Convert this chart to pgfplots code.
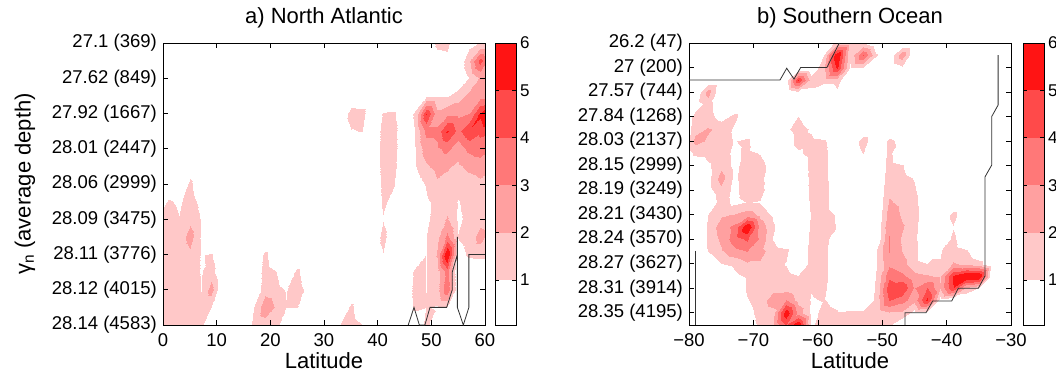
\documentclass[border=0pt]{standalone}
\usepackage{fontspec}
\setmainfont{Liberation Sans}
\usepackage{pgfplots}
\pgfplotsset{compat=1.18}
\newcommand{\tk}[1]{{\fontsize{18.5}{21}\selectfont #1}}
\newcommand{\tc}[1]{{\fontsize{17}{19}\selectfont #1}}
\newcommand{\tl}[1]{{\fontsize{22}{25}\selectfont #1}}
\definecolor{cA}{RGB}{255,200,200}
\definecolor{cB}{RGB}{255,160,160}
\definecolor{cC}{RGB}{255,120,120}
\definecolor{cD}{RGB}{255,74,74}
\definecolor{cE}{RGB}{255,20,20}
\pgfplotsset{
 cont/.style={hide axis, scale only axis, width=322pt, height=282pt, view={0}{90}, y dir=reverse, anchor=south west,
   colormap={reds}{rgb255=(255,255,255) rgb255=(255,200,200) rgb255=(255,160,160) rgb255=(255,120,120) rgb255=(255,74,74) rgb255=(255,20,20) rgb255=(255,20,20)},
   colormap access=piecewise constant, point meta min=0, point meta max=6},
 frame/.style={scale only axis, width=322pt, height=282pt, y dir=reverse, anchor=south west, tick align=inside,
   major tick length=5pt, every tick/.style={black, line width=0.6pt}, axis line style={line width=0.6pt},
   tick label style={font=\fontsize{18.5}{21}\selectfont},
   xticklabel style={font=\fontsize{18.5}{21}\selectfont, anchor=base, inner sep=0pt, yshift=-21pt},
   yticklabel style={font=\fontsize{18.5}{21}\selectfont, anchor=east, inner sep=0pt, xshift=-6pt},
   title style={at={(axis description cs:0.5,1.0496)}, anchor=base, font=\fontsize{22}{25}\selectfont},
   label style={font=\fontsize{22}{25}\selectfont},
   xlabel style={at={(axis description cs:0.5,-0.1560)}, anchor=base},
   ylabel style={at={(axis description cs:-0.4286,0.5)}, anchor=center}},
 cbar/.style={scale only axis, width=21pt, height=282pt, anchor=south west, xmin=0, xmax=1, ymin=0.05, ymax=6,
   xtick=\empty, ytick={1,2,3,4,5,6}, yticklabels={\tc{1},\tc{2},\tc{3},\tc{4},\tc{5},\tc{6}},
   yticklabel pos=right, ytick pos=both, tick align=inside, major tick length=4pt,
   every tick/.style={black, line width=0.6pt}, axis line style={line width=0.6pt}, axis on top,
   tick label style={font=\fontsize{17}{19}\selectfont},
   yticklabel style={font=\fontsize{17}{19}\selectfont, anchor=west, inner sep=0pt, xshift=4pt}},
 bathy/.style={black!80, line width=0.8pt}
}
\begin{document}
\begin{tikzpicture}
\path[use as bounding box] (0,0) rectangle (1056pt,379pt);
% ---------------- a) North Atlantic : contour ----------------
\begin{axis}[cont, at={(163pt,54pt)}, xmin=0, xmax=60, ymin=1, ymax=9]
\addplot3[surf, shader=interp, colormap access=piecewise constant] coordinates {
(-1,1,0) (1,1,0) (3,1,0) (5,1,0) (7,1,0) (9,1,0) (11,1,0) (13,1,0) (15,1,0) (17,1,0) (19,1,0) (21,1,0) (23,1,0) (25,1,0) (27,1,0) (29,1,0) (31,1,0) (33,1,0) (35,1,0) (37,1,0) (39,1,0) (41,1,0) (43,1,0) (45,1,0) (47,1,0) (49,1,0) (51,1,1.05) (53,1,1.1) (55,1,0) (57,1,0.5) (59,1,0.9) (61,1,0.6)

(-1,1.5,0) (1,1.5,0) (3,1.5,0) (5,1.5,0) (7,1.5,0) (9,1.5,0) (11,1.5,0) (13,1.5,0) (15,1.5,0) (17,1.5,0) (19,1.5,0) (21,1.5,0) (23,1.5,0) (25,1.5,0) (27,1.5,0) (29,1.5,0) (31,1.5,0) (33,1.5,0) (35,1.5,0) (37,1.5,0) (39,1.5,0) (41,1.5,0) (43,1.5,0) (45,1.5,0) (47,1.5,0) (49,1.5,0) (51,1.5,0.5) (53,1.5,0.6) (55,1.5,0) (57,1.5,1.6) (59,1.5,3.8) (61,1.5,2)

(-1,2,0) (1,2,0) (3,2,0) (5,2,0) (7,2,0) (9,2,0) (11,2,0) (13,2,0) (15,2,0) (17,2,0) (19,2,0) (21,2,0) (23,2,0) (25,2,0) (27,2,0) (29,2,0) (31,2,0) (33,2,0) (35,2,0) (37,2,0) (39,2,0) (41,2,0) (43,2,0) (45,2,0) (47,2,0) (49,2,0) (51,2,0) (53,2,0) (55,2,0) (57,2,0.9) (59,2,1.8) (61,2,1.9)

(-1,2.5,0) (1,2.5,0) (3,2.5,0) (5,2.5,0) (7,2.5,0) (9,2.5,0) (11,2.5,0) (13,2.5,0) (15,2.5,0) (17,2.5,0) (19,2.5,0) (21,2.5,0) (23,2.5,0) (25,2.5,0) (27,2.5,0) (29,2.5,0) (31,2.5,0) (33,2.5,0) (35,2.5,0) (37,2.5,0) (39,2.5,0) (41,2.5,0) (43,2.5,0) (45,2.5,0) (47,2.5,0) (49,2.5,0.8) (51,2.5,0.8) (53,2.5,0.8) (55,2.5,1.3) (57,2.5,2) (59,2.5,2.2) (61,2.5,2.4)

(-1,3,0) (1,3,0) (3,3,0) (5,3,0) (7,3,0) (9,3,0) (11,3,0) (13,3,0) (15,3,0) (17,3,0) (19,3,0) (21,3,0) (23,3,0) (25,3,0) (27,3,0) (29,3,0) (31,3,0) (33,3,0) (35,3,1.3) (37,3,1.2) (39,3,0) (41,3,0.95) (43,3,1) (45,3,0) (47,3,1.05) (49,3,4.3) (51,3,2) (53,3,2.4) (55,3,2.4) (57,3,2.6) (59,3,4.5) (61,3,6)

(-1,3.5,0) (1,3.5,0) (3,3.5,0) (5,3.5,0) (7,3.5,0) (9,3.5,0) (11,3.5,0) (13,3.5,0) (15,3.5,0) (17,3.5,0) (19,3.5,0) (21,3.5,0) (23,3.5,0) (25,3.5,0) (27,3.5,0) (29,3.5,0) (31,3.5,0) (33,3.5,0) (35,3.5,0.8) (37,3.5,0.9) (39,3.5,0) (41,3.5,1.2) (43,3.5,1.2) (45,3.5,0) (47,3.5,0.9) (49,3.5,2.8) (51,3.5,2.8) (53,3.5,4.4) (55,3.5,3.2) (57,3.5,4.2) (59,3.5,3.6) (61,3.5,3.5)

(-1,4,0) (1,4,0) (3,4,0) (5,4,0) (7,4,0) (9,4,0) (11,4,0) (13,4,0) (15,4,0) (17,4,0) (19,4,0) (21,4,0) (23,4,0) (25,4,0) (27,4,0) (29,4,0) (31,4,0) (33,4,0) (35,4,0) (37,4,0) (39,4,0) (41,4,1.25) (43,4,1.2) (45,4,0) (47,4,0.85) (49,4,2.2) (51,4,2.4) (53,4,2.8) (55,4,2) (57,4,2.8) (59,4,3.1) (61,4,2.6)

(-1,4.5,0) (1,4.5,0) (3,4.5,0) (5,4.5,0.4) (7,4.5,0) (9,4.5,0) (11,4.5,0) (13,4.5,0) (15,4.5,0) (17,4.5,0) (19,4.5,0) (21,4.5,0) (23,4.5,0) (25,4.5,0) (27,4.5,0) (29,4.5,0) (31,4.5,0) (33,4.5,0) (35,4.5,0) (37,4.5,0) (39,4.5,0) (41,4.5,1.2) (43,4.5,1.1) (45,4.5,0) (47,4.5,0.8) (49,4.5,1.6) (51,4.5,2) (53,4.5,1.8) (55,4.5,1.6) (57,4.5,1.9) (59,4.5,2) (61,4.5,1.8)

(-1,5,0) (1,5,0) (3,5,0) (5,5,1.05) (7,5,0) (9,5,0) (11,5,0) (13,5,0) (15,5,0) (17,5,0) (19,5,0) (21,5,0) (23,5,0) (25,5,0) (27,5,0) (29,5,0) (31,5,0) (33,5,0) (35,5,0) (37,5,0) (39,5,0) (41,5,1.1) (43,5,0.9) (45,5,0) (47,5,0.3) (49,5,0.95) (51,5,1.6) (53,5,1.5) (55,5,1.2) (57,5,1.4) (59,5,1.6) (61,5,1.5)

(-1,5.5,0) (1,5.5,1) (3,5.5,0.7) (5,5.5,1.3) (7,5.5,0.6) (9,5.5,0) (11,5.5,0) (13,5.5,0) (15,5.5,0) (17,5.5,0) (19,5.5,0) (21,5.5,0) (23,5.5,0) (25,5.5,0) (27,5.5,0) (29,5.5,0) (31,5.5,0) (33,5.5,0) (35,5.5,0) (37,5.5,0) (39,5.5,0) (41,5.5,1) (43,5.5,0.6) (45,5.5,0) (47,5.5,0) (49,5.5,0.7) (51,5.5,1.1) (53,5.5,1.4) (55,5.5,0.8) (57,5.5,1.2) (59,5.5,1.4) (61,5.5,1.3)

(-1,6,0.9) (1,6,1.3) (3,6,0.9) (5,6,1.5) (7,6,0.8) (9,6,0) (11,6,0) (13,6,0) (15,6,0) (17,6,0) (19,6,0) (21,6,0) (23,6,0) (25,6,0) (27,6,0) (29,6,0) (31,6,0) (33,6,0) (35,6,0) (37,6,0) (39,6,0) (41,6,0.8) (43,6,0) (45,6,0) (47,6,0) (49,6,0.7) (51,6,1.2) (53,6,1.8) (55,6,0.7) (57,6,1.1) (59,6,1.4) (61,6,1.2)

(-1,6.5,1.1) (1,6.5,1.4) (3,6.5,1.2) (5,6.5,2.1) (7,6.5,0.8) (9,6.5,0) (11,6.5,0) (13,6.5,0) (15,6.5,0) (17,6.5,0) (19,6.5,0) (21,6.5,0) (23,6.5,0) (25,6.5,0) (27,6.5,0) (29,6.5,0) (31,6.5,0) (33,6.5,0) (35,6.5,0) (37,6.5,0) (39,6.5,0) (41,6.5,1.2) (43,6.5,0) (45,6.5,0) (47,6.5,0) (49,6.5,0.85) (51,6.5,1.5) (53,6.5,2.8) (55,6.5,0.9) (57,6.5,1.2) (59,6.5,2.1) (61,6.5,1.3)

(-1,7,1.1) (1,7,1.5) (3,7,0.95) (5,7,1.5) (7,7,0.8) (9,7,0.95) (11,7,0) (13,7,0) (15,7,0) (17,7,0) (19,7,1.1) (21,7,0) (23,7,0) (25,7,0) (27,7,0) (29,7,0) (31,7,0) (33,7,0) (35,7,0) (37,7,0) (39,7,0) (41,7,0.8) (43,7,0) (45,7,0) (47,7,0) (49,7,0.85) (51,7,1.8) (53,7,5.3) (55,7,0.5) (57,7,1) (59,7,1.1) (61,7,1)

(-1,7.5,1.1) (1,7.5,1.4) (3,7.5,0.9) (5,7.5,1.4) (7,7.5,0.8) (9,7.5,1.3) (11,7.5,0) (13,7.5,0) (15,7.5,0) (17,7.5,0) (19,7.5,1.3) (21,7.5,0.9) (23,7.5,0) (25,7.5,1.1) (27,7.5,0) (29,7.5,0) (31,7.5,0) (33,7.5,0) (35,7.5,0) (37,7.5,0) (39,7.5,0) (41,7.5,0) (43,7.5,0) (45,7.5,0) (47,7.5,1.1) (49,7.5,0.85) (51,7.5,1.3) (53,7.5,2.9) (55,7.5,0) (57,7.5,0) (59,7.5,0) (61,7.5,0)

(-1,8,1.1) (1,8,1.3) (3,8,0.95) (5,8,1.4) (7,8,0.85) (9,8,2.1) (11,8,0) (13,8,0) (15,8,0) (17,8,0) (19,8,1.4) (21,8,1.2) (23,8,0.8) (25,8,1.4) (27,8,0.5) (29,8,0) (31,8,0) (33,8,0) (35,8,0) (37,8,0) (39,8,0) (41,8,0) (43,8,0) (45,8,0) (47,8,1.2) (49,8,0.85) (51,8,1.4) (53,8,3.3) (55,8,0) (57,8,0) (59,8,0) (61,8,0)

(-1,8.5,0.9) (1,8.5,1.1) (3,8.5,1.3) (5,8.5,1.3) (7,8.5,0.95) (9,8.5,0.9) (11,8.5,0) (13,8.5,0) (15,8.5,0) (17,8.5,0.9) (19,8.5,2.3) (21,8.5,1.6) (23,8.5,0.9) (25,8.5,0.9) (27,8.5,0) (29,8.5,0) (31,8.5,0) (33,8.5,0) (35,8.5,1.05) (37,8.5,0) (39,8.5,0) (41,8.5,0) (43,8.5,0) (45,8.5,0) (47,8.5,1.1) (49,8.5,0.9) (51,8.5,0.8) (53,8.5,0.8) (55,8.5,0) (57,8.5,0) (59,8.5,0) (61,8.5,0)

(-1,9,0.7) (1,9,1.2) (3,9,1.3) (5,9,1.3) (7,9,1) (9,9,0) (11,9,0) (13,9,0) (15,9,0) (17,9,1.1) (19,9,1.3) (21,9,1.2) (23,9,0) (25,9,0) (27,9,0) (29,9,0) (31,9,0) (33,9,0.9) (35,9,1.3) (37,9,0.9) (39,9,0) (41,9,0) (43,9,0) (45,9,0) (47,9,0) (49,9,1.1) (51,9,0) (53,9,0) (55,9,0) (57,9,0) (59,9,0) (61,9,0)
};
\end{axis}
% ---------------- a) frame ----------------
\begin{axis}[frame, at={(163pt,54pt)}, xmin=0, xmax=60, ymin=1, ymax=9,
  xtick={0,10,20,30,40,50,60}, xticklabels={\tk{0},\tk{10},\tk{20},\tk{30},\tk{40},\tk{50},\tk{60}},
  ytick={1,2,3,4,5,6,7,8,9},
  yticklabels={\tk{27.1 (369)},\tk{27.62 (849)},\tk{27.92 (1667)},\tk{28.01 (2447)},\tk{28.06 (2999)},\tk{28.09 (3475)},\tk{28.11 (3776)},\tk{28.12 (4015)},\tk{28.14 (4583)}},
  title={\tl{a) North Atlantic}}, xlabel={\tl{Latitude}}, ylabel={\tl{γ\textsubscript{n} (average depth)}}]
\addplot[bathy] coordinates {(45.7,9) (46.77,8.5) (47.77,9) (48.8,9) (49.75,8.5) (52.86,8.5) (53.9,8) (53.9,7.5) (54.85,7) (54.85,6.5) (54.85,8.5) (55.96,9) (57,8.5) (57,7) (60,7)};
\end{axis}
% ---------------- a) colorbar ----------------
\begin{axis}[cbar, at={(495pt,54pt)}]
\addplot[draw=none, fill=cA] coordinates {(0,1) (1,1) (1,2) (0,2)} -- cycle;
\addplot[draw=none, fill=cB] coordinates {(0,2) (1,2) (1,3) (0,3)} -- cycle;
\addplot[draw=none, fill=cC] coordinates {(0,3) (1,3) (1,4) (0,4)} -- cycle;
\addplot[draw=none, fill=cD] coordinates {(0,4) (1,4) (1,5) (0,5)} -- cycle;
\addplot[draw=none, fill=cE] coordinates {(0,5) (1,5) (1,6) (0,6)} -- cycle;
\end{axis}
% ---------------- b) Southern Ocean : contour ----------------
\begin{axis}[cont, at={(689pt,54pt)}, xmin=-80, xmax=-30, ymin=1, ymax=12.5]
\addplot3[surf, shader=interp, colormap access=piecewise constant] coordinates {
(-81,1,0) (-79,1,0) (-77,1,0) (-75,1,0) (-73,1,0) (-71,1,0) (-69,1,0) (-67,1,0) (-65,1,0) (-63,1,0) (-61,1,0) (-59,1,0) (-57,1,1.2) (-55,1,1.3) (-53,1,0.9) (-51,1,0) (-49,1,0) (-47,1,0) (-45,1,0) (-43,1,0) (-41,1,0) (-39,1,0) (-37,1,0) (-35,1,0) (-33,1,0) (-31,1,0) (-29,1,0)

(-81,1.5,0) (-79,1.5,0) (-77,1.5,0) (-75,1.5,0) (-73,1.5,0) (-71,1.5,0) (-69,1.5,0) (-67,1.5,0) (-65,1.5,0) (-63,1.5,0) (-61,1.5,0) (-59,1.5,0.9) (-57,1.5,5.3) (-55,1.5,0.95) (-53,1.5,3.5) (-51,1.5,0.95) (-49,1.5,0) (-47,1.5,2.3) (-45,1.5,0) (-43,1.5,0) (-41,1.5,0) (-39,1.5,0) (-37,1.5,0) (-35,1.5,0) (-33,1.5,0) (-31,1.5,0) (-29,1.5,0)

(-81,2,0) (-79,2,0) (-77,2,0) (-75,2,0) (-73,2,0) (-71,2,0) (-69,2,0) (-67,2,0) (-65,2,0) (-63,2,0) (-61,2,0) (-59,2,1.6) (-57,2,4.5) (-55,2,0.8) (-53,2,0.8) (-51,2,0) (-49,2,0) (-47,2,0.6) (-45,2,0) (-43,2,0) (-41,2,0) (-39,2,0) (-37,2,0) (-35,2,0) (-33,2,0) (-31,2,0) (-29,2,0)

(-81,2.5,0) (-79,2.5,0) (-77,2.5,0) (-75,2.5,0) (-73,2.5,0) (-71,2.5,0) (-69,2.5,0) (-67,2.5,0) (-65,2.5,0.3) (-63,2.5,4.3) (-61,2.5,1.3) (-59,2.5,1.2) (-57,2.5,1.2) (-55,2.5,0) (-53,2.5,0) (-51,2.5,0) (-49,2.5,0) (-47,2.5,0) (-45,2.5,0) (-43,2.5,0) (-41,2.5,0) (-39,2.5,0) (-37,2.5,0) (-35,2.5,0) (-33,2.5,0) (-31,2.5,0) (-29,2.5,0)

(-81,3,0) (-79,3,0) (-77,3,2.1) (-75,3,0) (-73,3,0) (-71,3,0) (-69,3,0) (-67,3,0) (-65,3,0) (-63,3,0.7) (-61,3,0.6) (-59,3,0) (-57,3,0.7) (-55,3,0) (-53,3,0) (-51,3,0) (-49,3,0) (-47,3,0) (-45,3,0) (-43,3,0) (-41,3,0) (-39,3,0) (-37,3,0) (-35,3,0) (-33,3,0) (-31,3,0) (-29,3,0)

(-81,3.5,0) (-79,3.5,0.4) (-77,3.5,1.2) (-75,3.5,0.3) (-73,3.5,0) (-71,3.5,0) (-69,3.5,0) (-67,3.5,0) (-65,3.5,0) (-63,3.5,0) (-61,3.5,0) (-59,3.5,0) (-57,3.5,0) (-55,3.5,0) (-53,3.5,0) (-51,3.5,0) (-49,3.5,0) (-47,3.5,0) (-45,3.5,0) (-43,3.5,0) (-41,3.5,0) (-39,3.5,0) (-37,3.5,0) (-35,3.5,0) (-33,3.5,0) (-31,3.5,0) (-29,3.5,0)

(-81,4,0) (-79,4,1.15) (-77,4,1.2) (-75,4,0.5) (-73,4,1.15) (-71,4,0) (-69,4,0) (-67,4,0) (-65,4,0.3) (-63,4,0.9) (-61,4,0) (-59,4,0) (-57,4,0) (-55,4,0) (-53,4,0) (-51,4,0) (-49,4,0) (-47,4,0) (-45,4,0) (-43,4,0) (-41,4,0) (-39,4,0) (-37,4,0) (-35,4,0) (-33,4,0) (-31,4,0) (-29,4,0)

(-81,4.5,0) (-79,4.5,1.4) (-77,4.5,1.8) (-75,4.5,1.5) (-73,4.5,0.7) (-71,4.5,0) (-69,4.5,0) (-67,4.5,0) (-65,4.5,0.6) (-63,4.5,1.4) (-61,4.5,0.7) (-59,4.5,0) (-57,4.5,0) (-55,4.5,0) (-53,4.5,0) (-51,4.5,0) (-49,4.5,0) (-47,4.5,0) (-45,4.5,0) (-43,4.5,0) (-41,4.5,0) (-39,4.5,0) (-37,4.5,0) (-35,4.5,0) (-33,4.5,0) (-31,4.5,0) (-29,4.5,0)

(-81,5,0) (-79,5,2) (-77,5,1.6) (-75,5,1.3) (-73,5,0.8) (-71,5,1.1) (-69,5,0) (-67,5,0) (-65,5,0) (-63,5,1.3) (-61,5,1.1) (-59,5,1) (-57,5,0) (-55,5,0) (-53,5,1.3) (-51,5,0) (-49,5,1.05) (-47,5,0.6) (-45,5,0) (-43,5,0) (-41,5,0) (-39,5,0) (-37,5,0) (-35,5,0) (-33,5,0) (-31,5,0) (-29,5,0)

(-81,5.5,0) (-79,5.5,1.1) (-77,5.5,1.2) (-75,5.5,1.4) (-73,5.5,0.6) (-71,5.5,1.1) (-69,5.5,0.8) (-67,5.5,0) (-65,5.5,0) (-63,5.5,0.7) (-61,5.5,1.2) (-59,5.5,1.15) (-57,5.5,0) (-55,5.5,0) (-53,5.5,0.9) (-51,5.5,0) (-49,5.5,1.1) (-47,5.5,0) (-45,5.5,0) (-43,5.5,0) (-41,5.5,0) (-39,5.5,0) (-37,5.5,0) (-35,5.5,0) (-33,5.5,0) (-31,5.5,0) (-29,5.5,0)

(-81,6,0) (-79,6,0) (-77,6,0.7) (-75,6,1.5) (-73,6,0.6) (-71,6,1.3) (-69,6,1.25) (-67,6,0.3) (-65,6,0) (-63,6,0) (-61,6,1.15) (-59,6,1.2) (-57,6,0) (-55,6,0) (-53,6,0) (-51,6,0) (-49,6,1.2) (-47,6,0.95) (-45,6,0) (-43,6,0) (-41,6,0) (-39,6,0) (-37,6,0) (-35,6,0) (-33,6,0) (-31,6,0) (-29,6,0)

(-81,6.5,0) (-79,6.5,0) (-77,6.5,0.6) (-75,6.5,2.1) (-73,6.5,0.7) (-71,6.5,1.3) (-69,6.5,1.2) (-67,6.5,0) (-65,6.5,0) (-63,6.5,0) (-61,6.5,1.1) (-59,6.5,1.2) (-57,6.5,0) (-55,6.5,0) (-53,6.5,0) (-51,6.5,0) (-49,6.5,1.3) (-47,6.5,1.2) (-45,6.5,0.8) (-43,6.5,0) (-41,6.5,0) (-39,6.5,0) (-37,6.5,0) (-35,6.5,0) (-33,6.5,0) (-31,6.5,0) (-29,6.5,0)

(-81,7,0) (-79,7,0) (-77,7,0.5) (-75,7,1.5) (-73,7,0.6) (-71,7,1.3) (-69,7,1.25) (-67,7,0) (-65,7,0) (-63,7,0) (-61,7,1.1) (-59,7,1.3) (-57,7,0) (-55,7,0) (-53,7,0) (-51,7,0) (-49,7,1.5) (-47,7,1.4) (-45,7,1) (-43,7,0) (-41,7,0) (-39,7,0) (-37,7,0) (-35,7,0) (-33,7,0) (-31,7,0) (-29,7,0)

(-81,7.5,0) (-79,7.5,0) (-77,7.5,0) (-75,7.5,1.3) (-73,7.5,0.6) (-71,7.5,0.9) (-69,7.5,0.8) (-67,7.5,0) (-65,7.5,0) (-63,7.5,0) (-61,7.5,1) (-59,7.5,1.3) (-57,7.5,0) (-55,7.5,0) (-53,7.5,0) (-51,7.5,0) (-49,7.5,1.8) (-47,7.5,1.5) (-45,7.5,1.2) (-43,7.5,0) (-41,7.5,0) (-39,7.5,0) (-37,7.5,0) (-35,7.5,0) (-33,7.5,0) (-31,7.5,0) (-29,7.5,0)

(-81,8,0) (-79,8,0) (-77,8,0.9) (-75,8,1.6) (-73,8,1.8) (-71,8,2.2) (-69,8,1.5) (-67,8,0.7) (-65,8,0) (-63,8,0) (-61,8,0.9) (-59,8,1.4) (-57,8,0.7) (-55,8,0) (-53,8,0) (-51,8,0) (-49,8,2.2) (-47,8,1.6) (-45,8,1.3) (-43,8,0) (-41,8,0) (-39,8,1.2) (-37,8,0) (-35,8,0) (-33,8,0) (-31,8,0) (-29,8,0)

(-81,8.5,0) (-79,8.5,0) (-77,8.5,0.95) (-75,8.5,2.2) (-73,8.5,2.8) (-71,8.5,5.2) (-69,8.5,2.3) (-67,8.5,1) (-65,8.5,0) (-63,8.5,0) (-61,8.5,1) (-59,8.5,1.4) (-57,8.5,0.8) (-55,8.5,0) (-53,8.5,0) (-51,8.5,0) (-49,8.5,2.5) (-47,8.5,1.8) (-45,8.5,1.2) (-43,8.5,0) (-41,8.5,0) (-39,8.5,0.8) (-37,8.5,0) (-35,8.5,0) (-33,8.5,0) (-31,8.5,0) (-29,8.5,0)

(-81,9,0) (-79,9,0) (-77,9,1) (-75,9,1.9) (-73,9,3) (-71,9,3.6) (-69,9,2.4) (-67,9,0.8) (-65,9,0) (-63,9,0) (-61,9,1.1) (-59,9,1.3) (-57,9,0) (-55,9,0) (-53,9,0) (-51,9,0) (-49,9,2.6) (-47,9,1.6) (-45,9,1.1) (-43,9,0) (-41,9,0) (-39,9,1.1) (-37,9,0) (-35,9,0) (-33,9,0) (-31,9,0) (-29,9,0)

(-81,9.5,0) (-79,9.5,0) (-77,9.5,0.9) (-75,9.5,1.6) (-73,9.5,2.3) (-71,9.5,2.6) (-69,9.5,2) (-67,9.5,1.3) (-65,9.5,1.05) (-63,9.5,0) (-61,9.5,1.2) (-59,9.5,1.2) (-57,9.5,0) (-55,9.5,0) (-53,9.5,0) (-51,9.5,0.8) (-49,9.5,2.6) (-47,9.5,1.7) (-45,9.5,1.2) (-43,9.5,0) (-41,9.5,0.8) (-39,9.5,1.3) (-37,9.5,1) (-35,9.5,0) (-33,9.5,0) (-31,9.5,0) (-29,9.5,0)

(-81,10,0) (-79,10,0) (-77,10,0) (-75,10,0.8) (-73,10,1.05) (-71,10,1.6) (-69,10,1.6) (-67,10,1.2) (-65,10,0.8) (-63,10,0) (-61,10,1.2) (-59,10,1.2) (-57,10,0) (-55,10,0) (-53,10,0) (-51,10,0.8) (-49,10,2.4) (-47,10,2) (-45,10,1.2) (-43,10,0.9) (-41,10,0.9) (-39,10,1.8) (-37,10,1.6) (-35,10,1.2) (-33,10,0) (-31,10,0) (-29,10,0)

(-81,10.5,0) (-79,10.5,0) (-77,10.5,0) (-75,10.5,0) (-73,10.5,0.6) (-71,10.5,1) (-69,10.5,1.4) (-67,10.5,1.4) (-65,10.5,1.2) (-63,10.5,0.9) (-61,10.5,1.1) (-59,10.5,1.2) (-57,10.5,0) (-55,10.5,0) (-53,10.5,0) (-51,10.5,0.9) (-49,10.5,3.2) (-47,10.5,2.8) (-45,10.5,2) (-43,10.5,1.8) (-41,10.5,1.6) (-39,10.5,4.5) (-37,10.5,5.4) (-35,10.5,5.4) (-33,10.5,0) (-31,10.5,0) (-29,10.5,0)

(-81,11,0) (-79,11,0) (-77,11,0) (-75,11,0) (-73,11,0) (-71,11,1) (-69,11,1.3) (-67,11,1.4) (-65,11,1.4) (-63,11,1) (-61,11,0.9) (-59,11,1.05) (-57,11,0) (-55,11,0) (-53,11,0) (-51,11,1) (-49,11,4) (-47,11,4.2) (-45,11,2.5) (-43,11,3.5) (-41,11,1.8) (-39,11,4.2) (-37,11,1.5) (-35,11,0.8) (-33,11,0) (-31,11,0) (-29,11,0)

(-81,11.5,0) (-79,11.5,0) (-77,11.5,0) (-75,11.5,0) (-73,11.5,0) (-71,11.5,0.8) (-69,11.5,1.2) (-67,11.5,2.2) (-65,11.5,2.6) (-63,11.5,1.4) (-61,11.5,0.8) (-59,11.5,0.9) (-57,11.5,0.6) (-55,11.5,0) (-53,11.5,0) (-51,11.5,1.1) (-49,11.5,3.5) (-47,11.5,3) (-45,11.5,2) (-43,11.5,4.5) (-41,11.5,0.5) (-39,11.5,0) (-37,11.5,0) (-35,11.5,0) (-33,11.5,0) (-31,11.5,0) (-29,11.5,0)

(-81,12,0) (-79,12,0) (-77,12,0) (-75,12,0) (-73,12,0) (-71,12,0.6) (-69,12,1.1) (-67,12,1.4) (-65,12,5) (-63,12,2.3) (-61,12,0.6) (-59,12,1.1) (-57,12,0.95) (-55,12,1.05) (-53,12,1.05) (-51,12,1.1) (-49,12,1.6) (-47,12,1.5) (-45,12,0.5) (-43,12,0.3) (-41,12,0) (-39,12,0) (-37,12,0) (-35,12,0) (-33,12,0) (-31,12,0) (-29,12,0)

(-81,12.5,0) (-79,12.5,0) (-77,12.5,0) (-75,12.5,0) (-73,12.5,0) (-71,12.5,0.5) (-69,12.5,1) (-67,12.5,1.6) (-65,12.5,3.5) (-63,12.5,5.2) (-61,12.5,0.7) (-59,12.5,1.3) (-57,12.5,1) (-55,12.5,1.3) (-53,12.5,1.1) (-51,12.5,1.2) (-49,12.5,1) (-47,12.5,0) (-45,12.5,0) (-43,12.5,0) (-41,12.5,0) (-39,12.5,0) (-37,12.5,0) (-35,12.5,0) (-33,12.5,0) (-31,12.5,0) (-29,12.5,0)

(-81,13,0) (-79,13,0) (-77,13,0) (-75,13,0) (-73,13,0) (-71,13,0.5) (-69,13,1) (-67,13,1.6) (-65,13,3.5) (-63,13,5.2) (-61,13,0.7) (-59,13,1.3) (-57,13,1) (-55,13,1.3) (-53,13,1.1) (-51,13,1.2) (-49,13,0.9) (-47,13,0) (-45,13,0) (-43,13,0) (-41,13,0) (-39,13,0) (-37,13,0) (-35,13,0) (-33,13,0) (-31,13,0) (-29,13,0)
};
\end{axis}
% ---------------- b) frame ----------------
\begin{axis}[frame, at={(689pt,54pt)}, xmin=-80, xmax=-30, ymin=1, ymax=12.5,
  xtick={-80,-70,-60,-50,-40,-30}, xticklabels={\tk{−80},\tk{−70},\tk{−60},\tk{−50},\tk{−40},\tk{−30}},
  ytick={1,2,3,4,5,6,7,8,9,10,11,12},
  yticklabels={\tk{26.2 (47)},\tk{27 (200)},\tk{27.57 (744)},\tk{27.84 (1268)},\tk{28.03 (2137)},\tk{28.15 (2999)},\tk{28.19 (3249)},\tk{28.21 (3430)},\tk{28.24 (3570)},\tk{28.27 (3627)},\tk{28.31 (3914)},\tk{28.35 (4195)}},
  title={\tl{b) Southern Ocean}}, xlabel={\tl{Latitude}}]
\addplot[bathy] coordinates {(-80,2.51) (-65.87,2.51) (-64.83,2.03) (-63.7,2.47) (-62.66,2.0) (-58.6,2.0) (-56.66,1.0)};
\addplot[bathy] coordinates {(-79,9.48) (-79,12.5)};
\addplot[bathy] coordinates {(-32,1.49) (-32,3.53) (-33,4.0) (-33,5.98) (-34.04,6.46) (-34.04,10.5) (-35.07,11.0) (-38.18,11.0) (-39.2,11.52) (-42.16,11.52) (-43.2,12.0) (-46.46,12.0) (-46.46,12.5)};
\end{axis}
% ---------------- b) colorbar ----------------
\begin{axis}[cbar, at={(1023pt,54pt)}]
\addplot[draw=none, fill=cA] coordinates {(0,1) (1,1) (1,2) (0,2)} -- cycle;
\addplot[draw=none, fill=cB] coordinates {(0,2) (1,2) (1,3) (0,3)} -- cycle;
\addplot[draw=none, fill=cC] coordinates {(0,3) (1,3) (1,4) (0,4)} -- cycle;
\addplot[draw=none, fill=cD] coordinates {(0,4) (1,4) (1,5) (0,5)} -- cycle;
\addplot[draw=none, fill=cE] coordinates {(0,5) (1,5) (1,6) (0,6)} -- cycle;
\end{axis}
\end{tikzpicture}
\end{document}
